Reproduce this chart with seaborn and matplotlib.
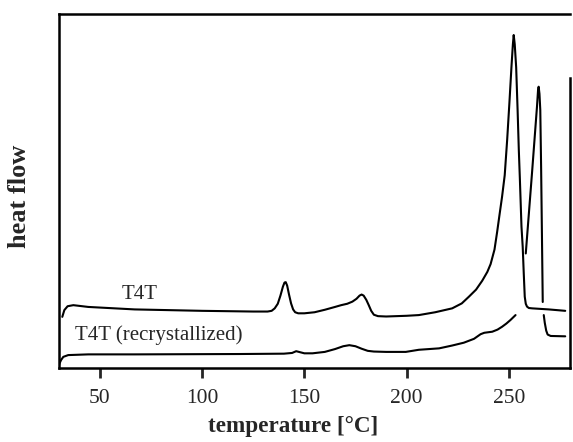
import matplotlib
matplotlib.use("Agg")
import matplotlib.pyplot as plt
import seaborn as sns
import pandas as pd

# T4T (as received) DSC trace, temperature in degC, heat flow in arbitrary units
t4t_temp = [31.6, 32.6, 34.2, 37.0, 44.3, 67, 100, 125, 132, 134, 135.5, 137, 138.3,
            139.5, 140.3, 140.9, 141.6, 142.5, 143.5, 144.5, 145.5, 147, 150, 155,
            160, 165, 168, 171, 173.5, 175.5, 177, 178, 179, 180.3, 181.5, 182.7,
            184, 186, 190, 195, 200, 206, 214, 222.3, 227, 230.5, 234, 237, 239.5,
            241.1, 243, 244.3, 245.5, 246.7, 248, 249.2, 250.3, 251.3, 252, 252.4,
            252.9, 253.6, 254.3, 254.9, 255.4, 256.2, 256.8, 257.3, 257.8, 258.3,
            258.9, 259.8, 261.4, 269.5, 277.6]
t4t_flow = [14.5, 16.4, 17.5, 17.8, 17.3, 16.6, 16.2, 16.0, 16.0, 16.2, 16.9, 18.2,
            20.5, 23.0, 24.2, 24.3, 23.3, 20.8, 18.3, 16.6, 15.8, 15.5, 15.5, 15.8,
            16.5, 17.3, 17.8, 18.2, 18.8, 19.6, 20.5, 20.8, 20.5, 19.3, 17.8, 16.2,
            15.1, 14.7, 14.6, 14.7, 14.8, 15.0, 15.8, 16.9, 18.3, 20.2, 22.2, 24.7,
            27.2, 29.4, 33.5, 38.5, 43.5, 48.4, 54.5, 64.5, 75.0, 85.1, 91.5, 94.1,
            91.5, 85.0, 73.0, 61.6, 53.7, 40.0, 34.3, 27.0, 20.2, 18.2, 17.4, 17.0,
            16.9, 16.6, 16.2]

# T4T (recrystallized): main trace, melting peak (rescaled) and tail
rec_temp = [29.7, 30.3, 31.0, 32.1, 34.5, 44.3, 67, 118, 140, 144, 146, 148, 150,
            154, 160, 165, 169, 172, 175, 178, 181, 184, 190, 199.6, 206, 215.9,
            222.3, 228, 233, 236.2, 238, 241.9, 244.5, 246.7, 248.8, 250.8, 253.3]
rec_flow = [0.4, 1.4, 2.3, 3.2, 3.7, 3.9, 3.9, 4.0, 4.1, 4.3, 4.8, 4.5, 4.2, 4.2,
            4.6, 5.4, 6.2, 6.5, 6.2, 5.5, 4.9, 4.7, 4.6, 4.6, 5.2, 5.6, 6.4, 7.2,
            8.3, 9.6, 10.0, 10.3, 10.9, 11.7, 12.6, 13.6, 15.0]
rec_peak_temp = [258.3, 261.4, 263.8, 264.3, 264.6, 265.0, 265.4, 265.8, 266.2, 266.6]
rec_peak_flow = [32.4, 55.5, 74.0, 78.5, 79.5, 77.5, 72.9, 57.0, 38.0, 18.7]
rec_tail_temp = [267.1, 267.6, 268.3, 269.0, 270.5, 277.6]
rec_tail_flow = [15.0, 12.8, 10.6, 9.5, 9.1, 9.0]

x_ticks = [50, 100, 150, 200, 250]

sns.set_style("white")
plt.rcParams['font.family'] = ['Liberation Serif', 'DejaVu Serif']

fig = plt.figure(figsize=(5.73, 4.42), dpi=100)
ax = fig.add_axes([0.103, 0.167, 0.892, 0.801])

segments = [(t4t_temp, t4t_flow), (rec_temp, rec_flow),
            (rec_peak_temp, rec_peak_flow), (rec_tail_temp, rec_tail_flow)]
for temp, flow in segments:
    df = pd.DataFrame({"temperature": temp, "heat flow": flow})
    sns.lineplot(data=df, x="temperature", y="heat flow", ax=ax, color="black",
                 linewidth=1.5, sort=False, estimator=None)

ax.text(60.6, 19.5, "T4T", fontsize=15, ha="left", va="baseline")
ax.text(37.8, 7.9, "T4T (recrystallized)", fontsize=15, ha="left", va="baseline")

ax.set_xlim(30, 280)
ax.set_ylim(0, 100)
ax.set_xticks(x_ticks)
ax.set_xticklabels([str(t) for t in x_ticks], fontsize=15.5)
ax.set_yticks([])
ax.tick_params(axis="x", direction="out", length=7, width=2, pad=8, bottom=True)
for side in ["left", "bottom", "top", "right"]:
    ax.spines[side].set_color("black")
    ax.spines[side].set_linewidth(1.8)
ax.spines["right"].set_bounds(0, 82)

ax.set_xlabel("temperature [°C]", fontsize=16.7, fontweight="bold")
ax.xaxis.set_label_coords(0.458, -0.135)
ax.set_ylabel("heat flow", fontsize=19, fontweight="bold")
ax.yaxis.set_label_coords(-0.055, 0.486)

fig.savefig("out.png", dpi=100)
